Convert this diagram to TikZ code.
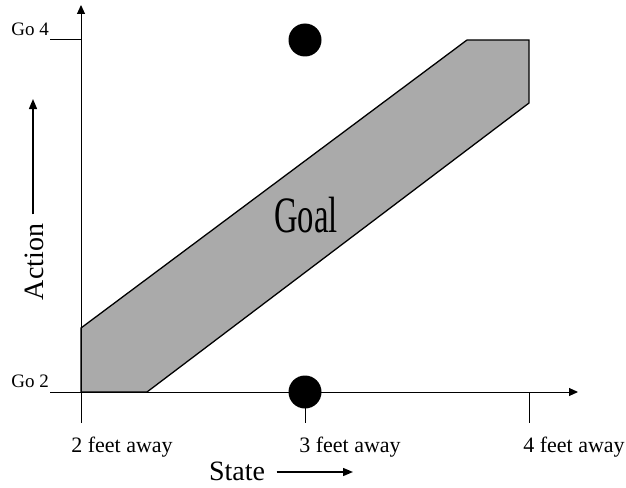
\documentclass[tikz,border=0pt]{standalone}
\usepackage{fontspec}
\setmainfont{Liberation Serif}
\usetikzlibrary{arrows.meta, positioning, calc}
\definecolor{goalgray}{HTML}{AAAAAA}

\begin{document}
\begin{tikzpicture}[
  x=1pt, y=-1pt,
  axis/.style={line width=1pt, black},
  axisarrow/.style={axis, -{Triangle[length=9pt, width=8pt]}},
  arrow/.style={-{Triangle[length=10pt, width=8pt]}, line width=1.4pt},
  dot/.style={circle, fill=black, inner sep=0pt, minimum size=33pt},
  ticklabel/.style={font=\fontsize{22}{24}\selectfont, anchor=base},
  golabel/.style={font=\fontsize{19}{21}\selectfont, anchor=base east, inner sep=0pt},
  axislabel/.style={font=\fontsize{28}{30}\selectfont},
  region/.style={draw=black, line width=1.3pt, fill=goalgray},
  goaltext/.style={font=\fontsize{51}{51}\selectfont}
]
  \useasboundingbox (0,0) rectangle (626,487);

  % Goal region
  \filldraw[region] (81,392) -- (147,392) -- (529,103) -- (529,40)
    -- (467,40) -- (81,328) -- cycle;
  \node[goaltext] (goal) at (306,215) {\scalebox{0.64}[1]{Goal}};

  % Axes
  \coordinate (origin) at (81,392);
  \coordinate (ytop) at (81,5);
  \coordinate (xend) at (578,392);
  \coordinate (ybottom) at (81,423);
  \draw[axisarrow] (ybottom) -- (ytop);
  \draw[axisarrow] (origin) -- (xend);

  % Action ticks
  \coordinate (go4) at (81,40);
  \coordinate (go2) at (81,392);
  \draw[axis] (50,40) -- (go4);
  \draw[axis] (50,392) -- (go2);
  \node[golabel] (go4label) at (49,36) {Go 4};
  \node[golabel] (go2label) at (49,387) {Go 2};

  % State ticks
  \draw[axis] (305,392) -- (305,423);
  \draw[axis] (529,392) -- (529,423);
  \node[ticklabel] (two) at (122,452) {2 feet away};
  \node[ticklabel] (three) at (350,452) {3 feet away};
  \node[ticklabel] (four) at (574,452) {4 feet away};

  % Points
  \node[dot] (top) at (305,40) {};
  \node[dot] (bottom) at (305,392) {};

  % Axis names
  \node[axislabel] (state) at (237,471) {State};
  \coordinate (stateend) at (353,472);
  \draw[arrow, shorten <=8pt] (state.east |- stateend) -- (stateend);

  \node[axislabel, rotate=90] (action) at (34,262) {Action};
  \coordinate (actionend) at (33,99);
  \draw[arrow, shorten <=6pt] (action.east -| actionend) -- (actionend);

\end{tikzpicture}
\end{document}
